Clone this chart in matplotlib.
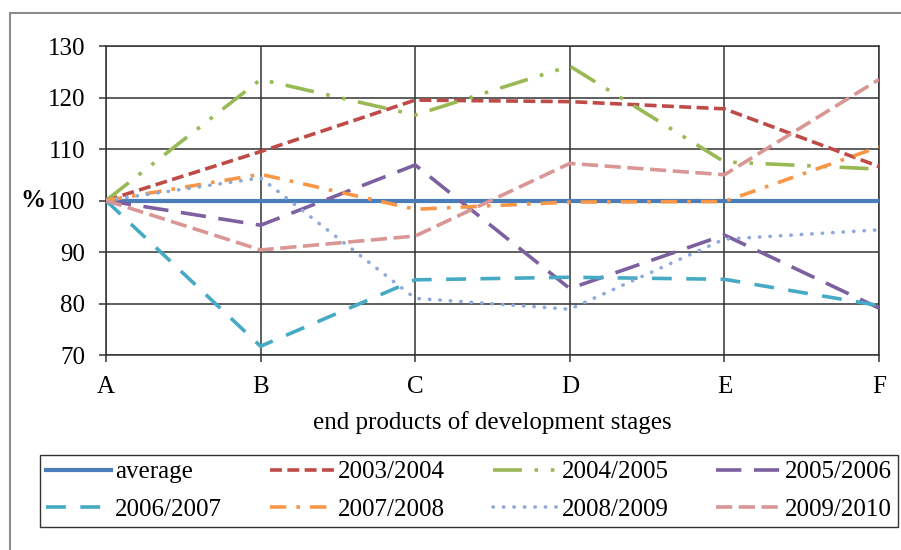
import matplotlib
matplotlib.use('Agg')
import matplotlib.pyplot as plt
import matplotlib.patches as patches

plt.rcParams['font.family'] = 'serif'
plt.rcParams['font.serif'] = ['Liberation Serif', 'DejaVu Serif']

# data
stages = ['A', 'B', 'C', 'D', 'E', 'F']
average = [100, 100, 100, 100, 100, 100]
y0304 = [100, 109.5, 119.5, 119.2, 117.8, 106.6]
y0405 = [100, 123.5, 116.6, 126.1, 107.5, 106.1]
y0506 = [100, 95.2, 106.9, 82.9, 93.3, 79.1]
y0607 = [100, 71.7, 84.6, 85.1, 84.7, 79.6]
y0708 = [100, 105.1, 98.3, 99.7, 99.8, 110.4]
y0809 = [100, 104.4, 81.0, 78.9, 92.5, 94.3]
y0910 = [100, 90.4, 93.1, 107.2, 105.0, 123.5]

series = [
    ('average', average, '#4A7EBB', '-', 3.0, 'butt'),
    ('2003/2004', y0304, '#BE4B48', (0, (3.3, 1.5)), 2.6, 'butt'),
    ('2004/2005', y0405, '#98B954', (0, (8, 3.5, 1, 3.5, 1, 3.5)), 2.6, 'butt'),
    ('2005/2006', y0506, '#7D60A0', (0, (7, 3.5)), 2.6, 'butt'),
    ('2006/2007', y0607, '#46AAC5', (0, (5.5, 4)), 2.6, 'butt'),
    ('2007/2008', y0708, '#F79646', (0, (4.5, 2.8, 1, 2.8)), 2.6, 'butt'),
    ('2008/2009', y0809, '#8FA9DA', (0, (0.1, 2.8)), 2.6, 'round'),
    ('2009/2010', y0910, '#D99694', (0, (4.5, 1.8)), 2.6, 'butt'),
]

fig = plt.figure(figsize=(9.01, 5.5), dpi=100)
ax = fig.add_axes([106/901, 195/550, 773/901, 309/550])

x = list(range(len(stages)))
handles = {}
for name, vals, col, ls, lw, cap in series:
    h, = ax.plot(x, vals, color=col, linestyle=ls, lw=lw, dash_capstyle=cap,
                 label=name, zorder=3)
    handles[name] = h

ax.set_xlim(0, 5)
ax.set_ylim(70, 130)
ax.set_xticks(x)
ax.set_xticklabels(stages)
ax.set_yticks(range(70, 131, 10))
ax.grid(True, color='#333333', lw=1.1)
for s in ax.spines.values():
    s.set_color('#333333')
    s.set_linewidth(1.1)
ax.tick_params(direction='out', length=5, width=1.1, color='#333333',
               labelsize=18, pad=10)

ax.set_ylabel('%', rotation=0, fontweight='bold', fontsize=18, va='center', ha='center')
ax.yaxis.set_label_coords(-0.094, 0.5)
ax.set_xlabel('end products of development stages', fontsize=18, va='center')
ax.xaxis.set_label_coords(0.5, -0.217)

# legend is filled row by row in the reference
order = ['average', '2006/2007', '2003/2004', '2007/2008',
         '2004/2005', '2008/2009', '2005/2006', '2009/2010']
leg = fig.legend([handles[k] for k in order], order, ncol=4, loc='lower left',
                 bbox_to_anchor=(40/901, 23/550, 858/901, 75/550),
                 bbox_transform=fig.transFigure, mode='expand', borderaxespad=0,
                 fontsize=18, handlelength=2.6, handletextpad=0.15,
                 labelspacing=0.6, borderpad=0.25, fancybox=False)
leg.get_frame().set_edgecolor('black')
leg.get_frame().set_linewidth(1)

# outer chart border
fig.patches.append(patches.Rectangle((10/901, -0.1), 1.2, 0.1 + 1 - 13/550,
                                     transform=fig.transFigure, fill=False,
                                     ec='#8c8c8c', lw=1.5))

plt.savefig('out.png', dpi=100)
plt.close()
